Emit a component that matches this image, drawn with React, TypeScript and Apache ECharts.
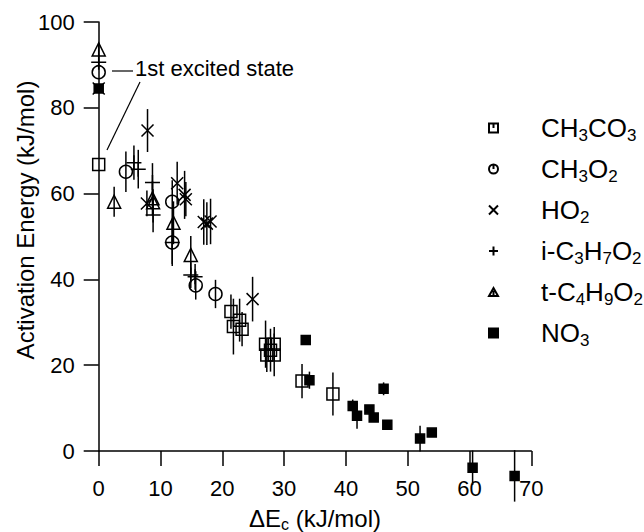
import React, { useEffect, useRef } from "react";
import * as echarts from "echarts";

const FONT = '"Liberation Sans", Arial, Helvetica, sans-serif';

// Each point: [ΔEc (kJ/mol), activation energy (kJ/mol), error bar half-length]
const ch3co3 = [
  [0, 66.8, 0],
  [21.4, 32.5, 4],
  [22.8, 30.5, 5],
  [21.8, 29.0, 6.5],
  [23.2, 28.4, 4],
  [27.0, 24.9, 5.5],
  [28.4, 24.9, 4],
  [27.8, 23.5, 5],
  [27.2, 22.4, 4],
  [28.4, 22.4, 5],
  [32.9, 16.3, 4],
  [37.9, 13.3, 5],
];
const ch3o2 = [
  [0, 88.3, 0],
  [4.4, 65.1, 4.7],
  [11.9, 58.1, 5],
  [11.9, 48.6, 5.5],
  [15.7, 38.6, 3.3],
  [18.9, 36.6, 3.3],
];
const ho2 = [
  [0, 84.5, 0],
  [7.9, 74.7, 5],
  [7.8, 57.7, 3],
  [12.7, 62.4, 5],
  [13.9, 59.7, 5.6],
  [14.1, 58.7, 4],
  [17.0, 53.4, 5.3],
  [17.5, 53.0, 5],
  [18.1, 53.5, 5.3],
  [24.9, 35.4, 5.2],
];
const iC3H7O2 = [
  [0, 90.6, 0],
  [5.7, 67.2, 4],
  [6.4, 65.7, 4.5],
  [8.7, 62.6, 4.5],
  [8.8, 55.0, 4],
  [11.9, 48.6, 5],
  [14.9, 41.0, 3],
  [15.6, 40.6, 3],
];
const tC4H9O2 = [
  [0, 93.6, 1.5],
  [2.5, 58.1, 3.5],
  [8.7, 58.9, 4],
  [8.8, 58.0, 3],
  [12.1, 53.2, 5],
  [14.9, 45.7, 4.4],
];
const no3 = [
  [0, 84.5, 0],
  [33.5, 25.9, 0],
  [34.1, 16.5, 2],
  [41.1, 10.5, 1.5],
  [41.8, 8.2, 3],
  [43.8, 9.7, 0],
  [44.5, 7.8, 0],
  [46.1, 14.5, 1.5],
  [46.7, 6.1, 0],
  [52.0, 2.9, 3],
  [53.9, 4.3, 0],
  [60.5, -3.9, 4],
  [67.3, -5.8, 6],
];

const seriesNames = ["CH3CO3", "CH3O2", "HO2", "i-C3H7O2", "t-C4H9O2", "NO3"];
const legendLabels: Record<string, string> = {
  CH3CO3: "{g| }{n|CH}{s|3}{n|CO}{s|3}",
  CH3O2: "{g| }{n|CH}{s|3}{n|O}{s|2}",
  HO2: "{g| }{n|HO}{s|2}",
  "i-C3H7O2": "{g| }{n|i-C}{s|3}{n|H}{s|7}{n|O}{s|2}",
  "t-C4H9O2": "{g| }{n|t-C}{s|4}{n|H}{s|9}{n|O}{s|2}",
  NO3: "{g| }{n|NO}{s|3}",
};
const xAxisTitle = "ΔE{sub|c} (kJ/mol)";
const yAxisTitle = "Activation Energy (kJ/mol)";
const annotation = "1st excited state";

const CROSS = "path://M0,0L10,10M10,0L0,10";
const PLUS = "path://M5,0L5,10M0,5L10,5";

const styles = [
  { data: ch3co3, symbol: "rect", size: 12, fill: "rgba(0,0,0,0)", icon: "path://M0,0L10,0L10,10L0,10Z M5,0L5,5" },
  { data: ch3o2, symbol: "circle", size: 13, fill: "rgba(0,0,0,0)", icon: "path://M10,5A5,5,0,1,1,0,5A5,5,0,1,1,10,5Z M5,0L5,5" },
  { data: ho2, symbol: CROSS, size: 12, fill: "rgba(0,0,0,0)", icon: CROSS },
  { data: iC3H7O2, symbol: PLUS, size: 15, fill: "rgba(0,0,0,0)", icon: PLUS },
  { data: tC4H9O2, symbol: "triangle", size: 13, fill: "rgba(0,0,0,0)", icon: "path://M5,0L10,9L0,9Z M5,3L5,9" },
  { data: no3, symbol: "rect", size: 9, fill: "#000", icon: "rect" },
];

const errRender = (_params: any, api: any) => {
  const x = api.value(0);
  const y = api.value(1);
  const e = api.value(2);
  if (!e) return { type: "group", children: [] };
  const p1 = api.coord([x, y + e]);
  const p2 = api.coord([x, y - e]);
  return {
    type: "line",
    shape: { x1: p1[0], y1: p1[1], x2: p2[0], y2: p2[1] },
    style: { stroke: "#000", lineWidth: 1.5 },
  };
};

export default function App() {
  const ref = useRef<HTMLDivElement>(null);
  useEffect(() => {
    if (!ref.current) return;
    const chart = echarts.init(ref.current, undefined, { renderer: "svg" });
    const series: any[] = [];
    styles.forEach((s, i) => {
      series.push({
        type: "custom",
        name: "err-" + seriesNames[i],
        renderItem: errRender,
        data: s.data,
        encode: { x: 0, y: 1 },
        clip: false,
        silent: true,
        z: 1,
      });
    });
    styles.forEach((s, i) => {
      series.push({
        type: "scatter",
        name: seriesNames[i],
        data: s.data.map((d) => [d[0], d[1]]),
        symbol: s.symbol,
        symbolSize: s.size,
        clip: false,
        silent: true,
        z: i === 2 ? 3 : 2,
        itemStyle: { color: s.fill, borderColor: "#000", borderWidth: 1.5, opacity: 1 },
      });
    });
    const axisCommon = {
      type: "value",
      splitLine: { show: false },
      axisLine: { show: true, onZero: false, lineStyle: { color: "#000", width: 1.5 } },
      axisTick: { show: true, inside: false, length: 15, lineStyle: { color: "#000", width: 1.5 } },
    };
    chart.setOption({
      animation: false,
      backgroundColor: "#fff",
      grid: {
        left: 98.7,
        top: 22,
        width: 432.6,
        height: 429,
        containLabel: false,
        outerBoundsMode: "none",
      },
      xAxis: {
        ...axisCommon,
        min: 0,
        max: 70,
        interval: 10,
        axisLabel: { margin: 26, fontSize: 22, color: "#000", fontFamily: FONT },
        name: xAxisTitle,
        nameLocation: "middle",
        nameGap: 53,
        nameTextStyle: {
          color: "#000",
          fontSize: 24,
          fontFamily: FONT,
          lineHeight: 28,
          rich: {
            sub: { fontSize: 16, lineHeight: 16, verticalAlign: "bottom", fontFamily: FONT, color: "#000" },
          },
        },
      },
      yAxis: {
        ...axisCommon,
        min: 0,
        max: 100,
        interval: 20,
        axisLabel: { margin: 24, fontSize: 22, color: "#000", fontFamily: FONT },
      },
      legend: {
        orient: "vertical",
        left: 488,
        top: 115,
        padding: 0,
        itemWidth: 9,
        itemHeight: 9,
        itemGap: 12,
        selectedMode: false,
        data: seriesNames.map((n, i) => ({ name: n, icon: styles[i].icon })),
        formatter: (name: string) => legendLabels[name],
        textStyle: {
          color: "#000",
          fontFamily: FONT,
          rich: {
            g: { width: 38, fontSize: 10 },
            n: { fontSize: 26, lineHeight: 32, fontFamily: FONT, color: "#000" },
            s: { fontSize: 17, lineHeight: 17, verticalAlign: "bottom", fontFamily: FONT, color: "#000" },
          },
        },
      },
      graphic: [
        {
          type: "text",
          x: 25,
          y: 220,
          rotation: Math.PI / 2,
          style: { text: yAxisTitle, fontSize: 24, fontFamily: FONT, fill: "#000", align: "center", verticalAlign: "middle" },
        },
        {
          type: "text",
          x: 135,
          y: 68,
          style: { text: annotation, fontSize: 22, fontFamily: FONT, fill: "#000", align: "left", verticalAlign: "middle" },
        },
        { type: "line", shape: { x1: 112, y1: 71, x2: 133, y2: 71 }, style: { stroke: "#000", lineWidth: 1.2 } },
        { type: "line", shape: { x1: 140, y1: 82, x2: 107, y2: 150 }, style: { stroke: "#000", lineWidth: 1.2 } },
      ],
      series,
    });
    return () => chart.dispose();
  }, []);
  return (
    <div
      ref={ref}
      style={{ position: "fixed", left: 0, top: 0, width: 644, height: 532, background: "#fff" }}
    />
  );
}
